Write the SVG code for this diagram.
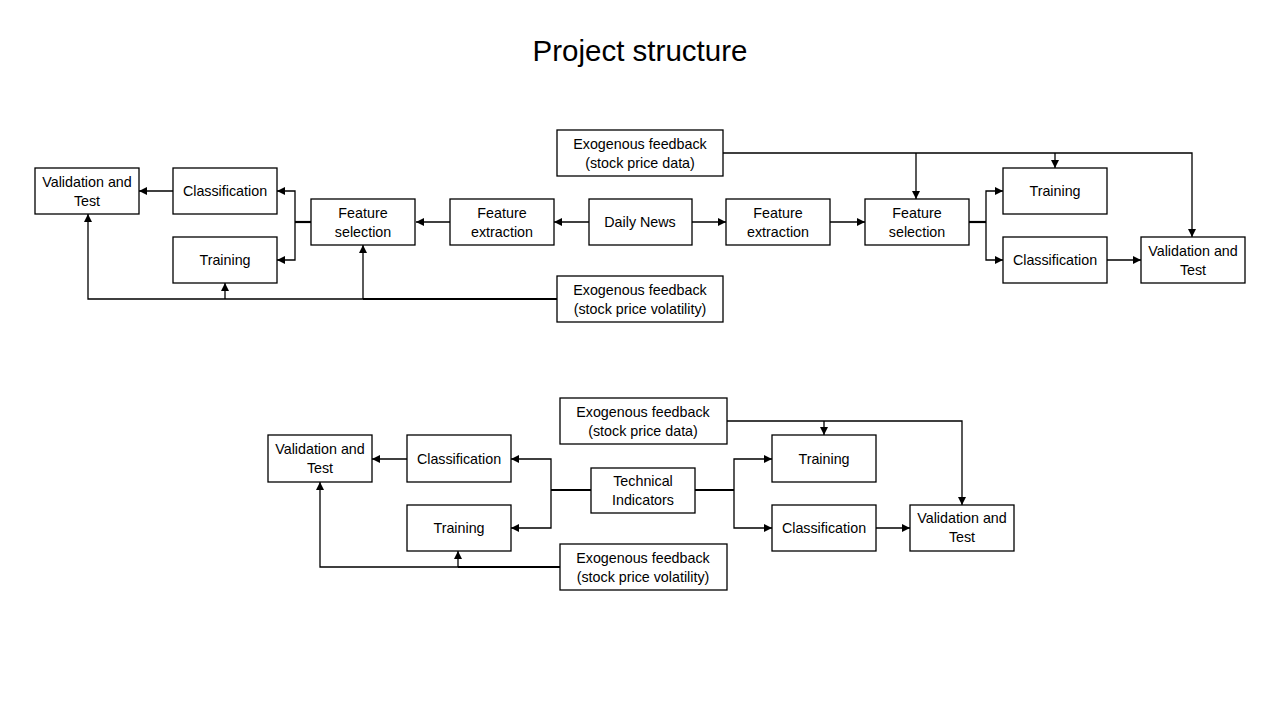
<svg xmlns="http://www.w3.org/2000/svg" width="1280" height="720" viewBox="0 0 1280 720">
<defs>
<marker id="ah" markerUnits="userSpaceOnUse" markerWidth="8" markerHeight="8" refX="8" refY="4" orient="auto">
<path d="M0,0 L8,4 L0,8 z" fill="#000"/>
</marker>
<style>
.b{fill:#fff;stroke:#000;stroke-width:1.3}
.t{font-family:"Liberation Sans",Arial,sans-serif;font-size:14.3px;fill:#000;text-anchor:middle}
.c{fill:none;stroke:#000;stroke-width:1.3}
.a{marker-end:url(#ah)}
.k{fill:none;stroke:#000;stroke-width:2.2}
</style>
</defs>
<rect width="1280" height="720" fill="#fff"/>
<text x="640" y="61" font-family="Liberation Sans,Arial,sans-serif" font-size="29.5" text-anchor="middle">Project structure</text>

<g id="connectors">
<!-- top row -->
<path class="c a" d="M589,222 H554"/>
<path class="c a" d="M450,222 H416"/>
<path class="c a" d="M692,222 H726"/>
<path class="c a" d="M830,222 H865"/>
<path class="k" d="M311,222 H295"/>
<path class="c a" d="M295,222 V191 H277"/>
<path class="c a" d="M295,222 V260 H277"/>
<path class="c a" d="M173,191 H139"/>
<path class="k" d="M557,299 H363"/>
<path class="c a" d="M363,299 H88 V214"/>
<path class="c a" d="M225,299 V283"/>
<path class="c a" d="M363,299 V245"/>
<path class="c a" d="M723,153 H1192 V237"/>
<path class="c a" d="M916,153 V199"/>
<path class="c a" d="M1055,153 V168"/>
<path class="k" d="M969,222 H986"/>
<path class="c a" d="M986,222 V191 H1003"/>
<path class="c a" d="M986,222 V260 H1003"/>
<path class="c a" d="M1107,260 H1141"/>
<!-- bottom row -->
<path class="k" d="M591,490 H551"/>
<path class="c a" d="M551,490 V459 H511"/>
<path class="c a" d="M551,490 V528 H511"/>
<path class="c a" d="M407,459 H372"/>
<path class="k" d="M695,490 H734"/>
<path class="c a" d="M734,490 V459 H772"/>
<path class="c a" d="M734,490 V528 H772"/>
<path class="c a" d="M876,528 H910"/>
<path class="c a" d="M727,421 H962 V505"/>
<path class="c a" d="M824,421 V435"/>
<path class="k" d="M560,567 H458"/>
<path class="c a" d="M458,567 H320 V482"/>
<path class="c a" d="M458,567 V551"/>
</g>

<g id="t_vat"><rect class="b" x="35" y="168" width="104" height="46"/><text class="t" x="87" y="187">Validation and</text><text class="t" x="87" y="206">Test</text></g>
<g id="t_cls_l"><rect class="b" x="173" y="168" width="104" height="46"/><text class="t" x="225" y="196">Classification</text></g>
<g id="t_trn_l"><rect class="b" x="173" y="237" width="104" height="46"/><text class="t" x="225" y="265">Training</text></g>
<g id="t_fs_l"><rect class="b" x="311" y="199" width="104" height="46"/><text class="t" x="363" y="218">Feature</text><text class="t" x="363" y="237">selection</text></g>
<g id="t_fe_l"><rect class="b" x="450" y="199" width="104" height="46"/><text class="t" x="502" y="218">Feature</text><text class="t" x="502" y="237">extraction</text></g>
<g id="t_news"><rect class="b" x="589" y="199" width="103" height="46"/><text class="t" x="640" y="227">Daily News</text></g>
<g id="t_fe_r"><rect class="b" x="726" y="199" width="104" height="46"/><text class="t" x="778" y="218">Feature</text><text class="t" x="778" y="237">extraction</text></g>
<g id="t_fs_r"><rect class="b" x="865" y="199" width="104" height="46"/><text class="t" x="917" y="218">Feature</text><text class="t" x="917" y="237">selection</text></g>
<g id="t_trn_r"><rect class="b" x="1003" y="168" width="104" height="46"/><text class="t" x="1055" y="196">Training</text></g>
<g id="t_cls_r"><rect class="b" x="1003" y="237" width="104" height="46"/><text class="t" x="1055" y="265">Classification</text></g>
<g id="t_vat_r"><rect class="b" x="1141" y="237" width="104" height="46"/><text class="t" x="1193" y="256">Validation and</text><text class="t" x="1193" y="275">Test</text></g>
<g id="t_exo_data"><rect class="b" x="557" y="130" width="166" height="46"/><text class="t" x="640" y="149">Exogenous feedback</text><text class="t" x="640" y="168">(stock price data)</text></g>
<g id="t_exo_vol"><rect class="b" x="557" y="276" width="166" height="46"/><text class="t" x="640" y="295">Exogenous feedback</text><text class="t" x="640" y="314">(stock price volatility)</text></g>

<g id="b_exo_data"><rect class="b" x="560" y="398" width="167" height="46"/><text class="t" x="643" y="417">Exogenous feedback</text><text class="t" x="643" y="436">(stock price data)</text></g>
<g id="b_vat_l"><rect class="b" x="268" y="435" width="104" height="47"/><text class="t" x="320" y="454">Validation and</text><text class="t" x="320" y="473">Test</text></g>
<g id="b_cls_l"><rect class="b" x="407" y="435" width="104" height="47"/><text class="t" x="459" y="464">Classification</text></g>
<g id="b_trn_l"><rect class="b" x="407" y="505" width="104" height="46"/><text class="t" x="459" y="533">Training</text></g>
<g id="b_ti"><rect class="b" x="591" y="468" width="104" height="45"/><text class="t" x="643" y="486">Technical</text><text class="t" x="643" y="505">Indicators</text></g>
<g id="b_trn_r"><rect class="b" x="772" y="435" width="104" height="47"/><text class="t" x="824" y="464">Training</text></g>
<g id="b_cls_r"><rect class="b" x="772" y="505" width="104" height="46"/><text class="t" x="824" y="533">Classification</text></g>
<g id="b_vat_r"><rect class="b" x="910" y="505" width="104" height="46"/><text class="t" x="962" y="523">Validation and</text><text class="t" x="962" y="542">Test</text></g>
<g id="b_exo_vol"><rect class="b" x="560" y="544" width="167" height="46"/><text class="t" x="643" y="563">Exogenous feedback</text><text class="t" x="643" y="582">(stock price volatility)</text></g>
</svg>
